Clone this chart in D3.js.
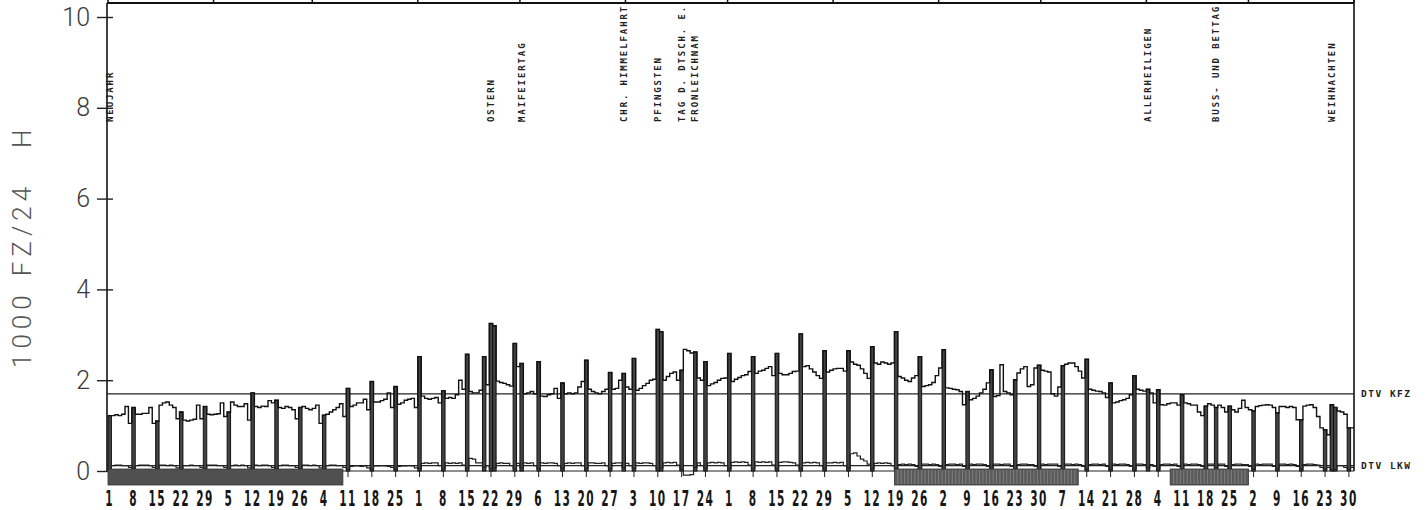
<!DOCTYPE html>
<html>
<head>
<meta charset="utf-8">
<script src="https://cdn.jsdelivr.net/npm/d3@7"></script>
<style>
  body { margin: 0; background: #fff; }
  svg { display: block; }
</style>
</head>
<body>
<svg width="1428" height="510"></svg>
<script>
// 1984, daily traffic in 1000 vehicles / 24 h, one row per week (Sun, Mon .. Sat)
const kfzWeeks = [
  [1.22, 1.22, 1.24, 1.22, 1.25, 1.42, 1.05],
  [1.40, 1.25, 1.25, 1.27, 1.27, 1.40, 1.05],
  [1.10, 1.45, 1.50, 1.52, 1.45, 1.40, 1.15],
  [1.30, 1.12, 1.10, 1.12, 1.14, 1.45, 1.15],
  [1.42, 1.25, 1.24, 1.25, 1.26, 1.50, 1.20],
  [1.30, 1.52, 1.45, 1.42, 1.42, 1.48, 1.12],
  [1.72, 1.42, 1.40, 1.43, 1.42, 1.55, 1.50],
  [1.56, 1.40, 1.38, 1.42, 1.40, 1.35, 1.15],
  [1.40, 1.42, 1.38, 1.35, 1.38, 1.45, 1.05],
  [1.23, 1.25, 1.30, 1.35, 1.40, 1.48, 1.20],
  [1.82, 1.42, 1.45, 1.50, 1.50, 1.58, 1.35],
  [1.97, 1.52, 1.52, 1.55, 1.58, 1.72, 1.40],
  [1.86, 1.47, 1.50, 1.56, 1.58, 1.60, 1.40],
  [2.52, 1.65, 1.60, 1.58, 1.60, 1.62, 1.50],
  [1.77, 1.60, 1.62, 1.60, 1.68, 2.00, 1.80],
  [2.57, 1.75, 1.72, 1.72, 1.78, 2.52, 1.90],
  [3.25, 3.20, 1.98, 1.95, 1.93, 1.90, 1.87],
  [2.81, 2.30, 2.37, 1.70, 1.72, 1.75, 1.70],
  [2.41, 1.65, 1.64, 1.68, 1.70, 1.82, 1.60],
  [1.94, 1.70, 1.72, 1.70, 1.72, 1.85, 1.97],
  [2.44, 1.80, 1.75, 1.72, 1.70, 1.75, 1.80],
  [2.17, 1.80, 1.82, 2.00, 2.15, 1.85, 1.80],
  [2.48, 1.78, 1.82, 1.88, 1.93, 2.00, 2.02],
  [3.12, 3.07, 2.00, 2.08, 2.15, 2.18, 2.00],
  [2.22, 2.68, 2.65, 2.60, 2.62, 2.05, 2.00],
  [2.41, 1.88, 1.92, 1.95, 2.00, 2.04, 2.05],
  [2.59, 1.97, 2.02, 2.06, 2.10, 2.12, 2.19],
  [2.52, 2.15, 2.20, 2.22, 2.26, 2.30, 2.10],
  [2.59, 2.15, 2.12, 2.12, 2.15, 2.19, 2.20],
  [3.02, 2.30, 2.32, 2.25, 2.18, 2.10, 2.04],
  [2.65, 2.18, 2.22, 2.25, 2.26, 2.26, 2.20],
  [2.65, 2.40, 2.35, 2.33, 2.25, 2.15, 2.04],
  [2.74, 2.38, 2.35, 2.40, 2.38, 2.35, 2.38],
  [3.07, 2.08, 2.05, 2.00, 1.97, 2.05, 2.10],
  [2.52, 1.86, 1.88, 1.90, 1.95, 2.10, 2.27],
  [2.67, 1.83, 1.82, 1.80, 1.79, 1.75, 1.46],
  [1.75, 1.57, 1.60, 1.65, 1.72, 1.80, 1.94],
  [2.23, 1.64, 1.66, 2.34, 1.75, 1.72, 1.68],
  [2.01, 2.16, 2.25, 2.30, 1.86, 1.90, 2.27],
  [2.33, 2.22, 2.20, 2.18, 1.70, 1.65, 1.85],
  [2.32, 2.35, 2.38, 2.38, 2.30, 2.20, 2.05],
  [2.46, 1.80, 1.78, 1.76, 1.75, 1.72, 1.62],
  [1.94, 1.50, 1.52, 1.55, 1.57, 1.60, 1.68],
  [2.10, 1.80, 1.78, 1.76, 1.80, 1.72, 1.50],
  [1.79, 1.46, 1.45, 1.48, 1.50, 1.50, 1.45],
  [1.68, 1.50, 1.48, 1.45, 1.45, 1.30, 1.22],
  [1.43, 1.48, 1.45, 1.40, 1.45, 1.40, 1.30],
  [1.43, 1.35, 1.30, 1.38, 1.56, 1.40, 1.35],
  [1.32, 1.42, 1.44, 1.45, 1.46, 1.45, 1.40],
  [1.28, 1.42, 1.42, 1.40, 1.42, 1.40, 1.13],
  [1.13, 1.43, 1.45, 1.46, 1.40, 1.20, 0.95],
  [0.91, 0.80, 1.46, 1.40, 1.32, 1.30, 1.25],
  [0.95, 0.95]
];

// heavy trucks, same layout
const lkwWeeks = [
  [0.05, 0.12, 0.13, 0.13, 0.12, 0.12, 0.08],
  [0.04, 0.12, 0.13, 0.13, 0.13, 0.12, 0.08],
  [0.04, 0.13, 0.13, 0.12, 0.13, 0.12, 0.07],
  [0.04, 0.12, 0.12, 0.13, 0.12, 0.12, 0.08],
  [0.04, 0.13, 0.13, 0.13, 0.12, 0.12, 0.08],
  [0.04, 0.12, 0.13, 0.12, 0.13, 0.12, 0.07],
  [0.04, 0.13, 0.12, 0.13, 0.13, 0.12, 0.08],
  [0.04, 0.12, 0.13, 0.13, 0.12, 0.12, 0.08],
  [0.04, 0.13, 0.13, 0.12, 0.13, 0.12, 0.07],
  [0.04, 0.12, 0.13, 0.13, 0.12, 0.12, 0.08],
  [0.04, 0.10, 0.11, 0.11, 0.10, 0.11, 0.07],
  [0.04, 0.11, 0.11, 0.12, 0.11, 0.10, 0.08],
  [0.04, 0.10, 0.11, 0.11, 0.12, 0.11, 0.07],
  [0.05, 0.17, 0.18, 0.17, 0.18, 0.18, 0.12],
  [0.05, 0.18, 0.17, 0.18, 0.17, 0.18, 0.13],
  [0.06, 0.28, 0.26, 0.18, 0.18, 0.08, 0.12],
  [0.06, 0.07, 0.17, 0.18, 0.17, 0.17, 0.12],
  [0.05, 0.17, 0.07, 0.18, 0.17, 0.18, 0.12],
  [0.05, 0.18, 0.17, 0.18, 0.18, 0.17, 0.12],
  [0.05, 0.17, 0.18, 0.17, 0.18, 0.18, 0.12],
  [0.05, 0.18, 0.18, 0.17, 0.17, 0.18, 0.12],
  [0.05, 0.17, 0.18, 0.18, 0.07, 0.17, 0.12],
  [0.05, 0.18, 0.17, 0.18, 0.18, 0.17, 0.12],
  [0.05, 0.07, 0.18, 0.19, 0.18, 0.19, 0.13],
  [0.04, -0.09, -0.09, -0.08, 0.08, 0.18, 0.12],
  [0.05, 0.18, 0.19, 0.18, 0.19, 0.18, 0.12],
  [0.05, 0.19, 0.20, 0.19, 0.20, 0.19, 0.13],
  [0.05, 0.20, 0.19, 0.20, 0.19, 0.20, 0.13],
  [0.05, 0.19, 0.20, 0.20, 0.19, 0.18, 0.13],
  [0.05, 0.18, 0.19, 0.18, 0.19, 0.18, 0.12],
  [0.05, 0.18, 0.18, 0.19, 0.18, 0.19, 0.12],
  [0.06, 0.38, 0.40, 0.33, 0.26, 0.22, 0.15],
  [0.05, 0.17, 0.18, 0.17, 0.18, 0.17, 0.12],
  [0.05, 0.14, 0.15, 0.14, 0.15, 0.14, 0.10],
  [0.04, 0.15, 0.15, 0.14, 0.15, 0.14, 0.10],
  [0.04, 0.14, 0.15, 0.15, 0.14, 0.15, 0.10],
  [0.04, 0.15, 0.14, 0.15, 0.15, 0.14, 0.10],
  [0.04, 0.15, 0.15, 0.14, 0.15, 0.15, 0.10],
  [0.04, 0.14, 0.15, 0.15, 0.14, 0.14, 0.10],
  [0.04, 0.15, 0.14, 0.15, 0.15, 0.15, 0.10],
  [0.04, 0.15, 0.15, 0.14, 0.15, 0.14, 0.10],
  [0.04, 0.14, 0.15, 0.15, 0.14, 0.15, 0.10],
  [0.04, 0.15, 0.14, 0.15, 0.15, 0.14, 0.10],
  [0.04, 0.15, 0.15, 0.14, 0.07, 0.14, 0.10],
  [0.04, 0.14, 0.15, 0.15, 0.14, 0.15, 0.10],
  [0.04, 0.15, 0.14, 0.15, 0.15, 0.14, 0.10],
  [0.04, 0.15, 0.15, 0.07, 0.15, 0.15, 0.10],
  [0.04, 0.14, 0.15, 0.15, 0.14, 0.14, 0.10],
  [0.04, 0.15, 0.14, 0.15, 0.15, 0.15, 0.10],
  [0.04, 0.15, 0.15, 0.14, 0.15, 0.14, 0.10],
  [0.04, 0.14, 0.15, 0.15, 0.14, 0.13, 0.08],
  [0.04, 0.08, 0.03, 0.04, 0.12, 0.12, 0.08],
  [0.04, 0.08]
];

const dtvKfz = 1.70;
const dtvLkw = 0.12;

// public holidays drawn like sundays
const holidayDates = ["1984-04-20", "1984-04-23", "1984-05-01", "1984-05-31", "1984-06-11",
  "1984-06-21", "1984-11-01", "1984-11-21", "1984-12-25", "1984-12-26"];

const labelDates = ["1984-01-01", "1984-04-22", "1984-05-01", "1984-05-31", "1984-06-10",
  "1984-06-17", "1984-06-21", "1984-11-01", "1984-11-21", "1984-12-25"];
const labelTexts = ["NEUJAHR", "OSTERN", "MAIFEIERTAG", "CHR. HIMMELFAHRT", "PFINGSTEN",
  "TAG D. DTSCH. E.", "FRONLEICHNAM", "ALLERHEILIGEN", "BUSS- UND BETTAG", "WEIHNACHTEN"];

// marked periods under the axis (end date exclusive)
const periodStart = ["1984-01-01", "1984-08-19", "1984-11-08"];
const periodEnd = ["1984-03-10", "1984-10-12", "1984-12-01"];
const periodKind = ["solid", "hatched", "hatched"];

const yTicks = [0, 2, 4, 6, 8, 10];
const yTitle = ["1000", "FZ/24", "H"];

const kfz = kfzWeeks.flat();
const lkw = lkwWeeks.flat();

const svg = d3.select("svg");
const parse = d3.timeParse("%Y-%m-%d");
const start = new Date(1984, 0, 1);
const end = new Date(1985, 0, 1);
const days = d3.timeDay.range(start, end);
const nDays = days.length;
const dayIdx = s => d3.timeDay.count(start, parse(s));

const leftX = 107, rightX = 1354, baseY = 471, topY = 3;
const x = d3.scaleLinear().domain([0, nDays]).range([leftX + 1, rightX]);
const y = d3.scaleLinear().domain([0, 10]).range([baseY, 17]);
const dw = x(1) - x(0);

const holidays = new Set(holidayDates.map(dayIdx));
const barDays = d3.range(nDays).filter(i => days[i].getDay() === 0 || holidays.has(i));
const sundays = d3.range(nDays).filter(i => days[i].getDay() === 0);

// month header strip at top
svg.append("line")
  .attr("x1", leftX).attr("x2", rightX).attr("y1", topY).attr("y2", topY)
  .attr("stroke", "#111").attr("stroke-width", 2);
svg.append("g").selectAll("line")
  .data(d3.timeMonth.range(start, end).concat([end]))
  .enter().append("line")
  .attr("x1", d => x(d3.timeDay.count(start, d)))
  .attr("x2", d => x(d3.timeDay.count(start, d)))
  .attr("y1", 0).attr("y2", topY)
  .attr("stroke", "#111").attr("stroke-width", 1.5);

// frame
svg.append("line").attr("x1", leftX).attr("x2", leftX).attr("y1", topY).attr("y2", baseY)
  .attr("stroke", "#111").attr("stroke-width", 1.6);
svg.append("line").attr("x1", rightX).attr("x2", rightX).attr("y1", 0).attr("y2", baseY)
  .attr("stroke", "#111").attr("stroke-width", 1.6);
svg.append("line").attr("x1", leftX).attr("x2", rightX).attr("y1", baseY).attr("y2", baseY)
  .attr("stroke", "#222").attr("stroke-width", 1.2);

// y axis
const yAxis = svg.append("g")
  .attr("transform", `translate(${leftX},0)`)
  .call(d3.axisLeft(y).tickValues(yTicks).tickSize(10).tickPadding(7).tickFormat(d3.format("d")));
yAxis.select(".domain").remove();
yAxis.selectAll(".tick line").attr("x1", 6).attr("stroke", "#222").attr("stroke-width", 1.4);
yAxis.selectAll(".tick text")
  .attr("font-family", "Roboto, 'Liberation Sans', sans-serif")
  .attr("font-weight", 300)
  .attr("font-size", 25)
  .attr("fill", "#3a3a3a");

// axis title, words spaced like the plotter lettering
const title = svg.append("text")
  .attr("transform", "translate(22,368) rotate(-90)")
  .attr("dy", "0.35em")
  .attr("font-family", "Roboto, 'Liberation Sans', sans-serif")
  .attr("font-weight", 300)
  .attr("font-size", 26)
  .attr("letter-spacing", 5)
  .attr("fill", "#555");
title.selectAll("tspan")
  .data(yTitle).enter().append("tspan")
  .attr("dx", (d, k) => k === 0 ? 0 : (k === 1 ? 14 : 34))
  .text(d => d);

// sunday ticks and labels
svg.append("g").selectAll("line")
  .data(sundays).enter().append("line")
  .attr("x1", i => x(i + 0.5)).attr("x2", i => x(i + 0.5))
  .attr("y1", baseY).attr("y2", baseY + 6)
  .attr("stroke", "#222").attr("stroke-width", 1);

svg.append("g").selectAll("text")
  .data(sundays).enter().append("text")
  .attr("transform", i => `translate(${x(i + 0.5)},506) scale(0.48,1)`)
  .attr("text-anchor", "middle")
  .attr("font-family", "'DejaVu Sans', sans-serif")
  .attr("font-weight", "bold")
  .attr("font-size", 22)
  .attr("letter-spacing", 3)
  .attr("fill", "#161616")
  .text(i => days[i].getDate());

// DTV reference lines
[dtvKfz, dtvLkw].forEach(v => {
  svg.append("line")
    .attr("x1", leftX).attr("x2", rightX).attr("y1", y(v)).attr("y2", y(v))
    .attr("stroke", "#222").attr("stroke-width", 1.2);
});
svg.append("g").selectAll("text")
  .data([["DTV KFZ", dtvKfz], ["DTV LKW", dtvLkw]])
  .enter().append("text")
  .attr("x", rightX + 7)
  .attr("y", d => y(d[1]))
  .attr("dy", "0.35em")
  .attr("font-family", "'DejaVu Sans Mono', monospace")
  .attr("font-weight", "bold")
  .attr("font-size", 9.5)
  .attr("letter-spacing", 1.5)
  .attr("fill", "#222")
  .text(d => d[0]);

// sunday / holiday bars
svg.append("g").selectAll("rect")
  .data(barDays).enter().append("rect")
  .attr("x", i => x(i))
  .attr("width", dw)
  .attr("y", i => y(kfz[i]))
  .attr("height", i => y(0) - y(kfz[i]))
  .attr("fill", "#444")
  .attr("stroke", "#111")
  .attr("stroke-width", 1);

// daily step lines
const step = d3.line()
  .x(d => x(d[0]))
  .y(d => y(d[1]))
  .curve(d3.curveStepAfter);

const kfzPts = kfz.map((v, i) => [i, v]).concat([[nDays, kfz[nDays - 1]]]);
const lkwPts = lkw.map((v, i) => [i, v]).concat([[nDays, lkw[nDays - 1]]]);

svg.append("path")
  .attr("d", step(kfzPts))
  .attr("fill", "none")
  .attr("stroke", "#111")
  .attr("stroke-width", 1.4);

svg.append("path")
  .attr("d", step(lkwPts))
  .attr("fill", "none")
  .attr("stroke", "#222")
  .attr("stroke-width", 1.2);

// marked periods below the axis
periodStart.forEach((s, k) => {
  const a = dayIdx(s), b = dayIdx(periodEnd[k]);
  const g = svg.append("g");
  g.append("rect")
    .attr("x", x(a)).attr("width", x(b) - x(a))
    .attr("y", baseY - 2).attr("height", 16)
    .attr("fill", periodKind[k] === "solid" ? "#505050" : "#5a5a5a")
    .attr("stroke", "#333").attr("stroke-width", 0.8);
  if (periodKind[k] === "hatched") {
    g.selectAll("line").data(d3.range(a + 1, b)).enter().append("line")
      .attr("x1", i => x(i)).attr("x2", i => x(i))
      .attr("y1", baseY - 1).attr("y2", baseY + 13)
      .attr("stroke", "#999").attr("stroke-width", 0.6);
  }
});

// holiday labels
svg.append("g").selectAll("text")
  .data(labelDates.map((d, k) => [dayIdx(d), labelTexts[k]]))
  .enter().append("text")
  .attr("transform", d => `translate(${x(d[0] + 0.5)},122) rotate(-90)`)
  .attr("dy", "0.35em")
  .attr("font-family", "'DejaVu Sans Mono', monospace")
  .attr("font-weight", "bold")
  .attr("font-size", 9)
  .attr("letter-spacing", 1.9)
  .attr("fill", "#222")
  .text(d => d[1]);
</script>
</body>
</html>
